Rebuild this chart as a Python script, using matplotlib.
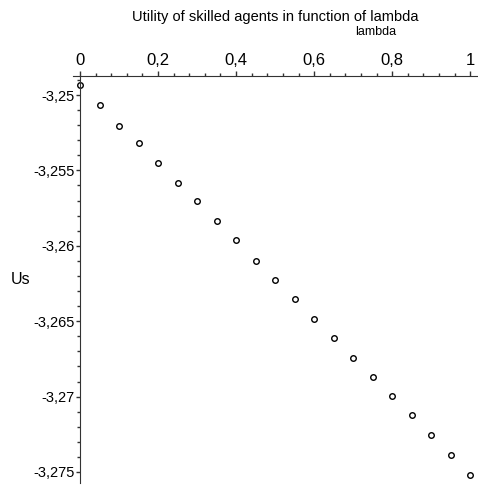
import matplotlib
matplotlib.use("Agg")
import matplotlib.pyplot as plt
from matplotlib.ticker import MultipleLocator, FuncFormatter

# data
lam = [0.0, 0.05, 0.1, 0.15, 0.2, 0.25, 0.3, 0.35, 0.4, 0.45, 0.5,
       0.55, 0.6, 0.65, 0.7, 0.75, 0.8, 0.85, 0.9, 0.95, 1.0]
us = [-3.24934, -3.25066, -3.25203, -3.25318, -3.25448, -3.25584, -3.25705,
      -3.25838, -3.25962, -3.26098, -3.26224, -3.26352, -3.26488, -3.26614,
      -3.26741, -3.26870, -3.26997, -3.27123, -3.27255, -3.27388, -3.27520]

x_ticks = [0, 0.2, 0.4, 0.6, 0.8, 1]
y_ticks = [-3.25, -3.255, -3.26, -3.265, -3.27, -3.275]

plt.rcParams["font.family"] = ["Liberation Sans", "DejaVu Sans"]

W, H = 478, 488
fig = plt.figure(figsize=(W / 100, H / 100), dpi=100)
left, right, top, bottom = 73, 478, 76, 483
ax = fig.add_axes([left / W, 1 - bottom / H, (right - left) / W, (bottom - top) / H])

ax.plot(lam, us, linestyle="none", marker="o", markersize=4,
        markerfacecolor="white", markeredgecolor="black", markeredgewidth=1.0,
        clip_on=False)

ax.set_xlim(-0.018, 1.02)
ax.set_ylim(-3.27573, -3.24874)

for s in ["right", "bottom"]:
    ax.spines[s].set_visible(False)
ax.spines["left"].set_position(("data", 0))
ax.spines["left"].set_color("#333333")
ax.spines["top"].set_color("#333333")

ax.xaxis.tick_top()
ax.xaxis.set_label_position("top")
ax.set_xticks(x_ticks)
ax.xaxis.set_minor_locator(MultipleLocator(0.04))
ax.set_yticks(y_ticks)
ax.yaxis.set_minor_locator(MultipleLocator(0.001))


def comma(v, pos):
    s = "%g" % round(v, 4)
    return s.replace(".", ",")


ax.xaxis.set_major_formatter(FuncFormatter(comma))
ax.yaxis.set_major_formatter(FuncFormatter(comma))

ax.tick_params(axis="x", which="major", length=3.5, width=1, labelsize=12, pad=2.5, color="#333333")
ax.tick_params(axis="x", which="minor", length=2.5, width=1, color="#333333")
ax.tick_params(axis="y", which="major", length=3, width=1, labelsize=10.5, pad=1, color="#333333")
ax.tick_params(axis="y", which="minor", length=2.5, width=1, color="#333333")

fig.text(275 / W, 1 - 17 / H, "Utility of skilled agents in function of lambda",
         ha="center", va="center", fontsize=10.5)
fig.text(376 / W, 1 - 32 / H, "lambda", ha="center", va="center", fontsize=9)
fig.text(21 / W, 1 - 280 / H, "Us", ha="center", va="center", fontsize=11.5)

fig.savefig("out.png", dpi=100, facecolor="white")
